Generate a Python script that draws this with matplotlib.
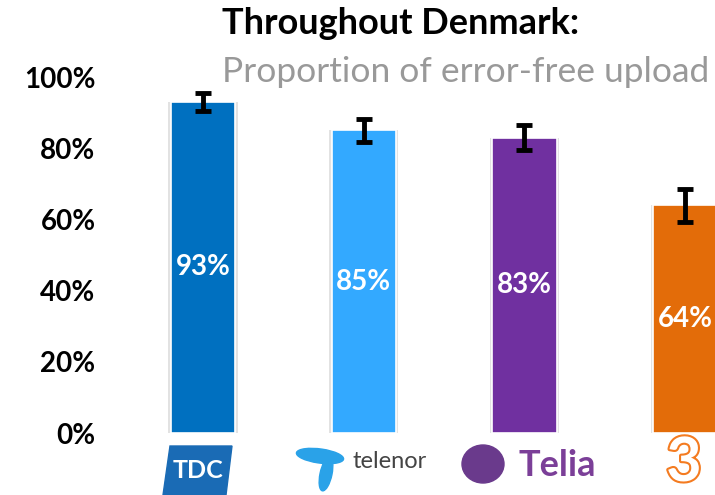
import matplotlib
matplotlib.use('Agg')
import matplotlib.pyplot as plt
import matplotlib.patheffects as pe
from matplotlib.patches import Polygon, Ellipse

operators = ['TDC', 'Telenor', 'Telia', '3']
values = [93, 85, 83, 64]
errors = [2.5, 3.2, 3.4, 4.6]
colors = ['#0070C0', '#33A9FF', '#7030A0', '#E36C09']
yticks = [0, 20, 40, 60, 80, 100]

plt.rcParams['font.family'] = ['Lato', 'DejaVu Sans']

fig = plt.figure(figsize=(7.15, 4.95), dpi=100)
ax = fig.add_axes([122 / 715, 1 - 433 / 495, (715 - 122) / 715, (433 - 77) / 495])

x = range(len(operators))
# light grey shadow behind each bar
ax.bar(x, values, width=0.43, color='#e2e2e2', zorder=1)
ax.bar(x, values, width=0.40, color=colors, edgecolor='white', linewidth=1.2, zorder=2)
ax.errorbar(x, values, yerr=errors, fmt='none', ecolor='black', elinewidth=3.5,
            capsize=6, capthick=3.5, zorder=3)

for i, v in enumerate(values):
    ax.text(i, v / 2, f'{v}%', ha='center', va='center', color='white',
            fontsize=20, fontweight='bold', zorder=4)

ax.set_xlim(-0.504, 3.186)
ax.set_ylim(0, 100)
ax.set_yticks(yticks)
ax.set_yticklabels([f'{t}%' for t in yticks], fontsize=20, fontweight='bold')
ax.set_xticks([])
ax.tick_params(axis='y', length=0, pad=19)
for s in ax.spines.values():
    s.set_visible(False)

fig.text(222 / 715, 1 - 24 / 495, 'Throughout Denmark:', ha='left', va='center',
         fontsize=26, fontweight='bold', color='black')
fig.text(222 / 715, 1 - 72 / 495, 'Proportion of error-free upload', ha='left',
         va='center', fontsize=25.5, color='#999999')

# logos drawn as simple shapes and text (pixel coords -> figure fraction)
def px(xp, yp):
    return (xp / 715, 1 - yp / 495)

tdc = Polygon([px(170, 446), px(232, 446), px(226, 495), px(163, 495)],
              closed=True, transform=fig.transFigure, color='#1a6bb5')
fig.patches.append(tdc)
fig.text(*px(198, 470), 'TDC', ha='center', va='center', color='white',
         fontsize=18, fontweight='bold')

tel = Ellipse(px(320, 456), 48 / 715, 14 / 495, angle=-12,
              transform=fig.transFigure, color='#2aa2e8')
fig.patches.append(tel)
tel2 = Ellipse(px(326, 474), 12 / 715, 34 / 495, angle=-8,
               transform=fig.transFigure, color='#2aa2e8')
fig.patches.append(tel2)
fig.text(*px(390, 462), 'telenor', ha='center', va='center', color='#444444',
         fontsize=17)

sphere = Ellipse(px(483, 464), 42 / 715, 38 / 495, transform=fig.transFigure,
                 color='#6a3a8c')
fig.patches.append(sphere)
fig.text(*px(557, 465), 'Telia', ha='center', va='center', color='#7b3f98',
         fontsize=26, fontweight='bold')

fig.text(*px(684, 463), '3', ha='center', va='center', color='white',
         fontsize=44, fontweight='bold',
         path_effects=[pe.withStroke(linewidth=3, foreground='#f47b20')])

fig.savefig('out.png', dpi=100)
